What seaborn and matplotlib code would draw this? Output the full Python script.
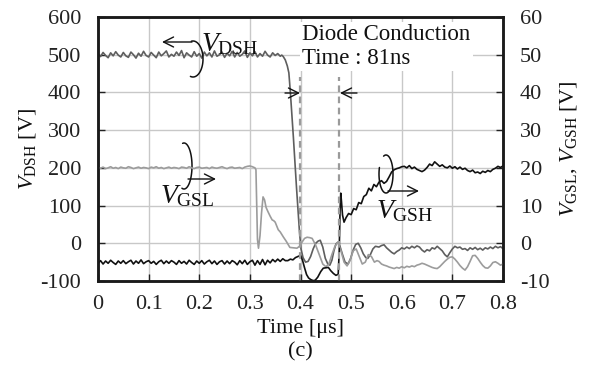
import numpy as np
import pandas as pd
import matplotlib
matplotlib.use("Agg")
import matplotlib.pyplot as plt
import seaborn as sns

# ---------------- data ----------------
x_ticks = [0, 0.1, 0.2, 0.3, 0.4, 0.5, 0.6, 0.7, 0.8]
x_tick_labels = ["0", "0.1", "0.2", "0.3", "0.4", "0.5", "0.6", "0.7", "0.8"]
left_ticks = [-100, 0, 100, 200, 300, 400, 500, 600]
left_tick_labels = ["-100", "0", "100", "200", "300", "400", "500", "600"]
right_ticks = [-10, 0, 10, 20, 30, 40, 50, 60]
right_tick_labels = ["-10", "0", "10", "20", "30", "40", "50", "60"]

# V_DSH [V]: samples every 5 ns from 0 to 0.36 us
vdsh_flat = [503, 495, 506, 498, 492, 505, 497, 508, 499, 494,
             506, 497, 493, 507, 500, 491, 504, 496, 509, 498,
             494, 506, 499, 492, 507, 497, 503, 510, 494, 501,
             496, 507, 498, 511, 492, 505, 499, 494, 508, 496,
             503, 491, 507, 497, 505, 494, 510, 496, 500, 507,
             493, 504, 497, 509, 494, 506, 496, 501, 510, 493,
             505, 497, 508, 494, 503, 496, 509, 499, 494, 505,
             498, 503, 496]
vdsh_edge_t = [0.363, 0.366, 0.370, 0.374, 0.377, 0.380, 0.383, 0.386, 0.389, 0.392,
               0.395, 0.398, 0.401, 0.405, 0.410, 0.415, 0.420, 0.425, 0.430, 0.435,
               0.439, 0.444, 0.449, 0.454, 0.458, 0.462, 0.466, 0.470, 0.474, 0.478,
               0.483, 0.488, 0.494, 0.499, 0.504, 0.509, 0.514, 0.519, 0.524, 0.529,
               0.533, 0.538, 0.543, 0.548]
vdsh_edge_v = [499, 495, 486, 470, 452, 400, 340, 280, 215, 150,
               90, 30, -15, -38, -50, -48, -35, -15, 0, 6,
               8, -10, -40, -55, -58, -45, -20, -2, 3, -8,
               -30, -50, -55, -40, -18, -3, 0, -12, -28, -38,
               -40, -30, -15, -8]
# samples every 5 ns from 0.555 to 0.8 us
vdsh_tail = [-10, -6, -4, -12, -18, -24, -28, -22, -18, -12,
             -15, -10, -14, -8, -12, -7, -10, -18, -23, -17,
             -20, -12, -15, -8, -14, -20, -30, -36, -25, -15,
             -8, -12, -10, -16, -14, -19, -12, -16, -11, -17,
             -13, -18, -12, -15, -10, -14, -8, -12, -9, -14]

# V_GSL [V]: samples every 5 ns from 0 to 0.31 us
vgsl_flat = [20.1, 19.9, 20.2, 19.8, 20.0, 20.3, 19.9, 20.1, 19.8, 20.2,
             20.0, 19.9, 20.3, 20.1, 19.8, 20.0, 20.2, 19.9, 20.1, 20.0,
             19.8, 20.2, 20.0, 20.3, 19.9, 20.1, 19.8, 20.0, 20.2, 19.9,
             20.1, 20.0, 19.8, 20.2, 20.1, 19.9, 20.3, 20.0, 19.8, 20.1,
             20.2, 19.9, 20.0, 20.1, 19.8, 20.2, 20.0, 19.9, 20.1, 20.3,
             20.0, 19.8, 20.1, 20.2, 19.9, 20.0, 20.1, 19.8, 20.2, 20.4,
             20.5, 20.3, 20.0]
vgsl_edge_t = [0.312, 0.3135, 0.315, 0.317, 0.320, 0.323, 0.326, 0.329, 0.332, 0.336,
               0.340, 0.344, 0.347, 0.350, 0.353, 0.356, 0.360, 0.366, 0.372, 0.379,
               0.386, 0.393, 0.398, 0.403, 0.408, 0.413, 0.418, 0.423, 0.430, 0.437,
               0.444, 0.450, 0.456, 0.462, 0.468, 0.474, 0.480, 0.486, 0.492, 0.498,
               0.504, 0.510, 0.516, 0.522, 0.528, 0.534, 0.540, 0.546, 0.551]
vgsl_edge_v = [19.5, 10.0, 1.0, -1.3, 2.0, 8.0, 12.3, 11.5, 9.5, 8.3,
               7.2, 6.2, 6.0, 5.6, 4.6, 3.6, 3.0, 1.7, 0.5, -1.1,
               -1.2, -1.3, -0.8, 0.3, 1.3, 1.6, 1.5, 1.3, -0.5, -3.0,
               -5.5, -6.2, -5.5, -3.0, -0.8, 0.3, -2.0, -5.0, -6.0, -4.5,
               -2.0, -1.5, -3.5, -5.5, -5.0, -3.0, -3.5, -5.0, -4.6]
# samples every 5 ns from 0.555 to 0.8 us
vgsl_tail = [-4.8, -5.5, -5.8, -6.0, -6.3, -6.5, -6.7, -6.4, -6.6, -6.2,
             -6.5, -6.1, -6.3, -6.0, -6.2, -5.8, -5.6, -5.3, -5.5, -5.8,
             -6.1, -6.4, -6.6, -6.7, -6.2, -5.5, -4.8, -4.2, -3.7, -3.6,
             -4.2, -5.0, -5.9, -6.6, -7.1, -6.2, -4.8, -3.3, -3.2, -4.0,
             -5.0, -5.9, -6.5, -6.6, -6.0, -5.1, -4.9, -5.3, -5.8, -5.5]

# V_GSH [V]: samples every 5 ns from 0 to 0.37 us
vgsh_flat = [-5.4, -4.6, -5.5, -4.7, -5.3, -4.5, -5.1, -5.6, -4.7, -5.3,
             -4.6, -5.4, -4.9, -4.5, -5.5, -4.7, -5.3, -4.4, -5.4, -4.9,
             -4.6, -5.3, -4.8, -5.6, -4.9, -4.5, -5.4, -4.7, -5.3, -4.6,
             -5.0, -5.6, -4.6, -5.3, -4.8, -5.5, -4.5, -5.1, -5.6, -4.7,
             -5.3, -4.6, -5.5, -4.9, -4.5, -5.4, -4.7, -5.6, -4.9, -4.6,
             -5.5, -4.7, -5.4, -4.6, -5.0, -5.7, -4.6, -5.4, -4.5, -5.6,
             -4.9, -4.5, -5.8, -4.6, -5.6, -4.3, -5.7, -4.5, -5.2, -4.3,
             -4.9, -4.2, -4.8, -4.1, -4.6]
vgsh_edge_t = [0.375, 0.380, 0.385, 0.390, 0.395, 0.400, 0.404, 0.408, 0.412, 0.416,
               0.420, 0.425, 0.429, 0.434, 0.440, 0.445, 0.450, 0.455, 0.460, 0.465,
               0.470, 0.4745, 0.4765, 0.478, 0.4795, 0.481, 0.483, 0.486, 0.490, 0.495,
               0.500, 0.505, 0.510, 0.515, 0.520, 0.525, 0.530, 0.535, 0.540, 0.545,
               0.550, 0.555, 0.560, 0.565, 0.570, 0.575, 0.580, 0.585, 0.590, 0.595,
               0.600]
vgsh_edge_v = [-4.6, -4.2, -4.4, -3.8, -3.5, -3.2, -4.5, -6.5, -8.3, -9.2,
               -9.6, -9.9, -9.8, -9.0, -7.5, -6.6, -6.5, -6.4, -7.3, -8.0,
               -8.5, -8.2, -2.0, 8.0, 13.3, 11.0, 7.5, 5.6, 6.8, 7.9,
               7.6, 9.2, 8.9, 10.8, 10.5, 12.4, 12.9, 14.6, 13.9, 15.6,
               15.0, 16.2, 16.6, 15.9, 16.4, 17.6, 18.9, 19.5, 19.8, 20.0,
               20.3]
# samples every 5 ns from 0.605 to 0.8 us
vgsh_tail = [20.4, 20.0, 20.6, 19.8, 20.2, 19.6, 19.3, 19.0, 19.4, 20.1,
             21.0, 20.6, 21.6, 21.0, 20.4, 20.8, 20.2, 20.0, 20.5, 19.9,
             20.3, 19.7, 20.2, 19.6, 19.9, 19.3, 19.0, 19.4, 18.7, 18.9,
             18.5, 19.1, 18.8, 19.3, 19.0, 19.6, 19.9, 20.4, 20.1, 20.5]

# diode conduction interval markers [us]
diode_start = 0.399
diode_end = 0.476

# ---------------- assemble ----------------
t_dsh = np.concatenate([np.linspace(0, 0.36, len(vdsh_flat)), vdsh_edge_t,
                        np.linspace(0.555, 0.8, len(vdsh_tail))])
v_dsh = np.concatenate([vdsh_flat, vdsh_edge_v, vdsh_tail])
t_gsl = np.concatenate([np.linspace(0, 0.31, len(vgsl_flat)), vgsl_edge_t,
                        np.linspace(0.555, 0.8, len(vgsl_tail))])
v_gsl = np.concatenate([vgsl_flat, vgsl_edge_v, vgsl_tail])
t_gsh = np.concatenate([np.linspace(0, 0.37, len(vgsh_flat)), vgsh_edge_t,
                        np.linspace(0.605, 0.8, len(vgsh_tail))])
v_gsh = np.concatenate([vgsh_flat, vgsh_edge_v, vgsh_tail])

df_dsh = pd.DataFrame({"t": t_dsh, "v": v_dsh})
df_gsl = pd.DataFrame({"t": t_gsl, "v": v_gsl})
df_gsh = pd.DataFrame({"t": t_gsh, "v": v_gsh})

# ---------------- style ----------------
sns.set_theme(style="white")
plt.rcParams["font.family"] = ["Liberation Serif", "DejaVu Serif"]
plt.rcParams["mathtext.fontset"] = "custom"
plt.rcParams["mathtext.rm"] = "Liberation Serif"
plt.rcParams["mathtext.it"] = "Liberation Serif:italic"
plt.rcParams["mathtext.bf"] = "Liberation Serif:bold"

W, H = 597, 372
fig = plt.figure(figsize=(W / 100, H / 100), dpi=100)
L, R, T, B = 98, 503, 17, 281
ax = fig.add_axes([L / W, 1 - B / H, (R - L) / W, (B - T) / H])
ax2 = ax.twinx()

c_dsh, c_gsl, c_gsh = "#5e5e5e", "#9c9c9c", "#111111"
sns.lineplot(data=df_dsh, x="t", y="v", ax=ax, color=c_dsh, lw=1.2,
             estimator=None, sort=False)
sns.lineplot(data=df_gsl, x="t", y="v", ax=ax2, color=c_gsl, lw=1.2,
             estimator=None, sort=False)
sns.lineplot(data=df_gsh, x="t", y="v", ax=ax2, color=c_gsh, lw=1.2,
             estimator=None, sort=False)

ax.set_xlim(0, 0.8)
ax.set_ylim(-100, 600)
ax2.set_ylim(-10, 60)
ax.set_xticks(x_ticks)
ax.set_xticklabels(x_tick_labels)
ax.set_yticks(left_ticks)
ax.set_yticklabels(left_tick_labels)
ax2.set_yticks(right_ticks)
ax2.set_yticklabels(right_tick_labels)

ax.grid(True, color="#c8c8c8", lw=1.0)
ax2.grid(False)
fs = 16
ax.tick_params(axis="both", direction="in", length=5, width=1.0, colors="#222222",
               labelsize=fs, bottom=True, left=True, top=False, right=False)
ax.tick_params(axis="x", pad=10)
ax.tick_params(axis="y", pad=12)
ax2.tick_params(axis="y", direction="in", length=5, width=1.0, colors="#222222",
                labelsize=fs, right=True, left=False, pad=12)
for a in (ax, ax2):
    for s in a.spines.values():
        s.set_linewidth(1.8)
        s.set_color("#1a1a1a")

ax.set_xlabel("Time [μs]", fontsize=fs, color="#111111", labelpad=4)
ax.set_ylabel(r"$V_{\rm DSH}$ [V]", fontsize=fs, color="#111111", labelpad=2)
ax2.set_ylabel(r"$V_{\rm GSL}$, $V_{\rm GSH}$ [V]", fontsize=fs, color="#111111", labelpad=6)
fig.text((L + R) / 2 / W, 1 - 352 / H, "(c)", ha="center", va="center", fontsize=fs,
         color="#111111")

# dashed markers of the diode conduction interval (drawn in right-axis units)
for xv in (diode_start, diode_end):
    ax2.plot([xv, xv], [-10, 44], color="#9a9a9a", lw=1.6, ls=(0, (3, 2)))


def P(px, py):
    """pixel position in the figure -> left-axis data coords (annotation placement only)"""
    px = np.asarray(px, dtype=float)
    py = np.asarray(py, dtype=float)
    return ((px - L) / (R - L) * 0.8, 600 - (py - T) / (B - T) * 700)


def loop(cx, cy, rx, ry, a1, a2):
    """open ellipse arc used as the curly 'which trace' marker"""
    a = np.radians(np.linspace(a1, a2, 80))
    x, y = P(cx + rx * np.cos(a), cy - ry * np.sin(a))
    ax.plot(x, y, color="#111111", lw=1.1, zorder=6, solid_capstyle="round")


# text box
ax.text(*P(302, 24), "Diode Conduction\nTime : 81ns", fontsize=16.5, ha="left", va="top",
        color="#111111", linespacing=1.2, zorder=5,
        bbox=dict(boxstyle="square,pad=0.1", fc="white", ec="none"))

# conduction arrows
arr = dict(arrowstyle="->", color="#111111", lw=1.0, mutation_scale=18, shrinkA=0, shrinkB=0)
ax.annotate("", xy=P(300, 93), xytext=P(285, 93), arrowprops=arr)
ax.annotate("", xy=P(340, 93), xytext=P(357, 93), arrowprops=arr)

# V_DSH label, loop and arrow (points left)
ax.text(*P(201, 51), r"$V_{\rm DSH}$", fontsize=20, ha="left", va="baseline",
        color="#111111", zorder=5)
loop(193, 59, 10, 18, 100, -105)
ax.annotate("", xy=P(162, 42), xytext=P(192, 42), arrowprops=arr)

# V_GSL label, loop and arrow (points right)
ax.text(*P(160, 203), r"$V_{\rm GSL}$", fontsize=20, ha="left", va="baseline",
        color="#111111", zorder=5)
loop(184, 166, 8, 23, 100, -105)
ax.annotate("", xy=P(216, 179), xytext=P(188, 179), arrowprops=arr)

# V_GSH label, loop and arrow (points right)
ax.text(*P(376, 218), r"$V_{\rm GSH}$", fontsize=20, ha="left", va="baseline",
        color="#111111", zorder=5)
loop(386, 174, 7, 19, 110, -200)
ax.annotate("", xy=P(419, 191), xytext=P(388, 191), arrowprops=arr)

fig.savefig("out.png", dpi=100)
